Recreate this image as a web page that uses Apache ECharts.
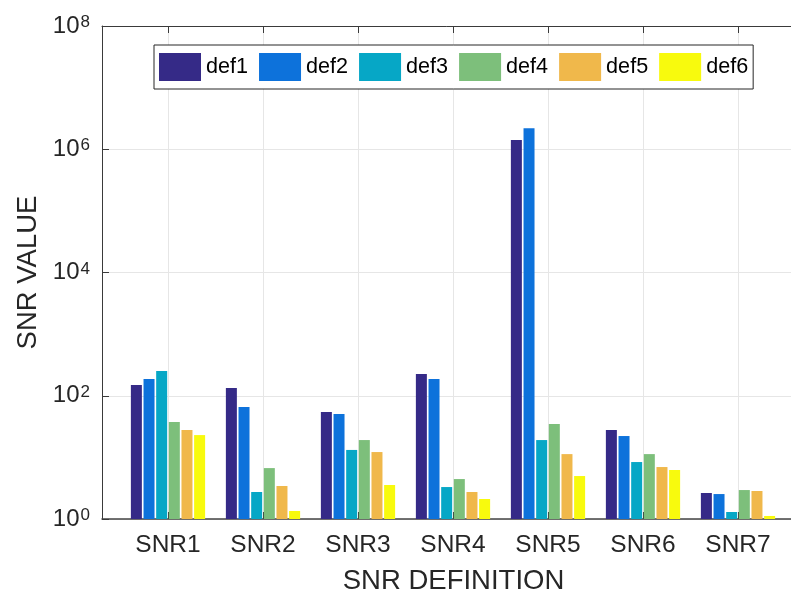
<!DOCTYPE html>
<html>
<head>
<meta charset="utf-8">
<script src="https://cdn.jsdelivr.net/npm/echarts@6/dist/echarts.min.js"></script>
<style>
  html, body { margin: 0; padding: 0; background: #fff; }
  #chart { width: 791px; height: 593px; }
</style>
</head>
<body>
<div id="chart"></div>
<script>
// SNR definitions along the x axis
const categories = ['SNR1', 'SNR2', 'SNR3', 'SNR4', 'SNR5', 'SNR6', 'SNR7'];
const seriesNames = ['def1', 'def2', 'def3', 'def4', 'def5', 'def6'];

// SNR values per definition (log scale)
const def1 = [149, 133, 54.4, 225, 1.41e6, 27.8, 2.64];
const def2 = [187, 65.6, 50.5, 187, 2.2e6, 22.2, 2.54];
const def3 = [251, 2.74, 13.2, 3.3, 19.1, 8.4, 1.30];
const def4 = [37.4, 6.7, 19.1, 4.45, 34.7, 11.3, 2.95];
const def5 = [27.8, 3.43, 12.2, 2.74, 11.3, 6.97, 2.85];
const def6 = [23.0, 1.35, 3.56, 2.11, 4.98, 6.24, 1.12];
const seriesValues = [def1, def2, def3, def4, def5, def6];

const colors = ['#352a87', '#0d72db', '#06a7c6', '#7dbf7b', '#f0b84b', '#f8fa0d'];

// y range 10^0 ... 10^8, a tick every second decade
const yMin = 1, yMax = 1e8, yDecadeStep = 2;

const textColor = '#262626';
const axisColor = '#3a3a3a';
const gridColor = '#e6e6e6';

const chart = echarts.init(document.getElementById('chart'), null, { renderer: 'canvas' });

const plotTop = 26, plotHeight = 493;

const option = {
  animation: false,
  backgroundColor: '#fff',
  textStyle: { fontFamily: 'Liberation Sans, Arial, Helvetica, sans-serif' },
  color: colors,
  grid: [
    // frame + y axis (x limits extend past the first/last category)
    { left: 102, top: plotTop, width: 703, height: plotHeight, outerBoundsMode: 'none', containLabel: false },
    // bars: one 95px band per category
    { left: 120.5, top: plotTop, width: 665, height: plotHeight, outerBoundsMode: 'none', containLabel: false },
    // category-centred grid lines and tick marks
    { left: 168, top: plotTop, width: 570, height: plotHeight, outerBoundsMode: 'none', containLabel: false }
  ],
  legend: {
    data: seriesNames,
    left: 154,
    top: 45,
    orient: 'horizontal',
    icon: 'rect',
    itemWidth: 42,
    itemHeight: 28,
    itemGap: 11,
    padding: [8, 5, 8, 5],
    backgroundColor: '#fff',
    borderColor: '#262626',
    borderWidth: 1,
    borderRadius: 0,
    textStyle: { fontSize: 21.6, color: '#000', padding: [0, 0, 0, 0] }
  },
  xAxis: [
    {
      gridIndex: 0, type: 'value', min: 0, max: 1, position: 'bottom',
      axisLine: { show: true, onZero: false, lineStyle: { color: '#444', width: 1.5 } },
      axisTick: { show: false }, axisLabel: { show: false }, splitLine: { show: false },
      name: 'SNR DEFINITION', nameLocation: 'middle', nameGap: 48,
      nameTextStyle: { fontSize: 27.5, color: textColor }
    },
    {
      gridIndex: 0, type: 'value', min: 0, max: 1, position: 'top',
      axisLine: { show: true, onZero: false, lineStyle: { color: axisColor, width: 1 } },
      axisTick: { show: false }, axisLabel: { show: false }, splitLine: { show: false }
    },
    {
      gridIndex: 1, type: 'category', data: categories, position: 'bottom',
      axisLine: { show: false, onZero: false }, axisTick: { show: false },
      axisLabel: { fontSize: 24.5, color: textColor, margin: 14 },
      splitLine: { show: false }
    },
    {
      gridIndex: 2, type: 'category', data: categories, boundaryGap: false, position: 'bottom',
      axisLine: { show: false, onZero: false },
      axisTick: { show: true, inside: true, length: 7, lineStyle: { color: axisColor } },
      axisLabel: { show: false },
      splitLine: { show: true, lineStyle: { color: gridColor, width: 1 } }
    },
    {
      gridIndex: 2, type: 'category', data: categories, boundaryGap: false, position: 'top',
      axisLine: { show: false, onZero: false },
      axisTick: { show: true, inside: true, length: 7, lineStyle: { color: axisColor } },
      axisLabel: { show: false }, splitLine: { show: false }
    }
  ],
  yAxis: [
    {
      gridIndex: 0, type: 'log', min: yMin, max: yMax, logBase: 10, interval: yDecadeStep,
      axisLine: { show: true, onZero: false, lineStyle: { color: axisColor, width: 1 } },
      axisTick: { show: true, inside: true, length: 7, lineStyle: { color: axisColor } },
      minorTick: { show: false },
      splitLine: { show: true, lineStyle: { color: gridColor, width: 1 } },
      axisLabel: {
        margin: 12,
        formatter: function (v) {
          const e = Math.round(Math.log10(v));
          return '{b|10}{e|' + e + '}';
        },
        rich: {
          b: { fontSize: 24, color: textColor, verticalAlign: 'bottom', lineHeight: 24 },
          e: { fontSize: 17, color: textColor, verticalAlign: 'top', lineHeight: 17, padding: [0, 0, 13, 1] }
        }
      },
      name: 'SNR VALUE', nameLocation: 'middle', nameGap: 60, nameRotate: 90,
      nameTextStyle: { fontSize: 27.5, color: textColor }
    },
    {
      gridIndex: 1, type: 'log', min: yMin, max: yMax, logBase: 10, interval: yDecadeStep,
      show: false
    },
    {
      gridIndex: 2, type: 'log', min: yMin, max: yMax, logBase: 10, interval: yDecadeStep,
      show: false
    }
  ],
  series: seriesNames.map(function (name, i) {
    return {
      name: name,
      type: 'bar',
      xAxisIndex: 2,
      yAxisIndex: 1,
      data: seriesValues[i],
      barWidth: 11,
      barGap: '15%',
      itemStyle: { color: colors[i] },
      z: 3
    };
  })
};

chart.setOption(option);
</script>
</body>
</html>
